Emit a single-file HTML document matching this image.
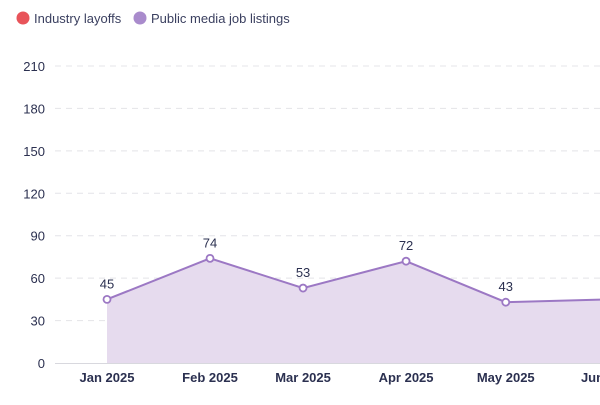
<!DOCTYPE html>
<html><head><meta charset="utf-8"><style>
body{margin:0;background:#fff;width:600px;height:400px;overflow:hidden;font-family:"Liberation Sans",sans-serif}
</style></head><body>
<svg id="chart" width="600" height="400">
<g>
<g><circle cx="23" cy="18" r="6.5" fill="#e8545a"/><text x="34" y="23" font-size="13" fill="#3b4060">Industry layoffs</text></g>
<g><circle cx="140" cy="18" r="6.5" fill="#a98bcc"/><text x="151" y="23" font-size="13" fill="#3b4060">Public media job listings</text></g>
</g>
<g id="grid"></g><g id="series"></g><g id="xaxis"></g>
</svg>
<script>
const categories=["Jan 2025","Feb 2025","Mar 2025","Apr 2025","May 2025","Jun 2025"];
const dayOffsets=[0,31,59,90,120,151];
const listings=[45,74,53,72,43,45];
const yTicks=[0,30,60,90,120,150,180,210];
const NS="http://www.w3.org/2000/svg";
const y=v=>363-v*(297/210);
const x=d=>107+d*3.323;
function mk(t,a,p){const e=document.createElementNS(NS,t);for(const k in a)e.setAttribute(k,a[k]);p.appendChild(e);return e;}
const g=document.getElementById('grid'),s=document.getElementById('series'),xa=document.getElementById('xaxis');
yTicks.forEach(v=>{
 if(v>0){const l=mk('line',{x1:55,x2:600,y1:y(v),y2:y(v),stroke:'#e4e4e8','stroke-dasharray':'6,5'},g);
 
 }
 const t=mk('text',{x:45,y:y(v)+5,'text-anchor':'end','font-size':'13',fill:'#2b3050'},g);t.textContent=v;
 
 
});
const base=mk('line',{x1:55,x2:600,y1:363.5,y2:363.5,stroke:'#d8d8de'},g);


const pts=listings.map((v,i)=>[x(dayOffsets[i]),y(v)]);
const area=mk('path',{d:'M'+pts[0][0]+','+y(0)+pts.map(p=>' L'+p[0]+','+p[1]).join('')+' L'+pts[pts.length-1][0]+','+y(0)+'Z',fill:'#e6dbee'},s);


const line=mk('polyline',{points:pts.map(p=>p.join(',')).join(' '),fill:'none',stroke:'#9c78c4','stroke-width':2},s);


pts.forEach((p,i)=>{
 const c=mk('circle',{cx:p[0],cy:p[1],r:3.5,fill:'#fff',stroke:'#9c78c4','stroke-width':1.8},s);
 
 
 if(i<5){const t=mk('text',{x:p[0],y:p[1]-11,'text-anchor':'middle','font-size':'13',fill:'#2b3050'},s);t.textContent=listings[i];
 
 }
 const xl=mk('text',{x:p[0],y:382,'text-anchor':'middle','font-size':'13','font-weight':'bold',fill:'#2b3050'},xa);xl.textContent=categories[i];
 
 
});
</script>
</body></html>
